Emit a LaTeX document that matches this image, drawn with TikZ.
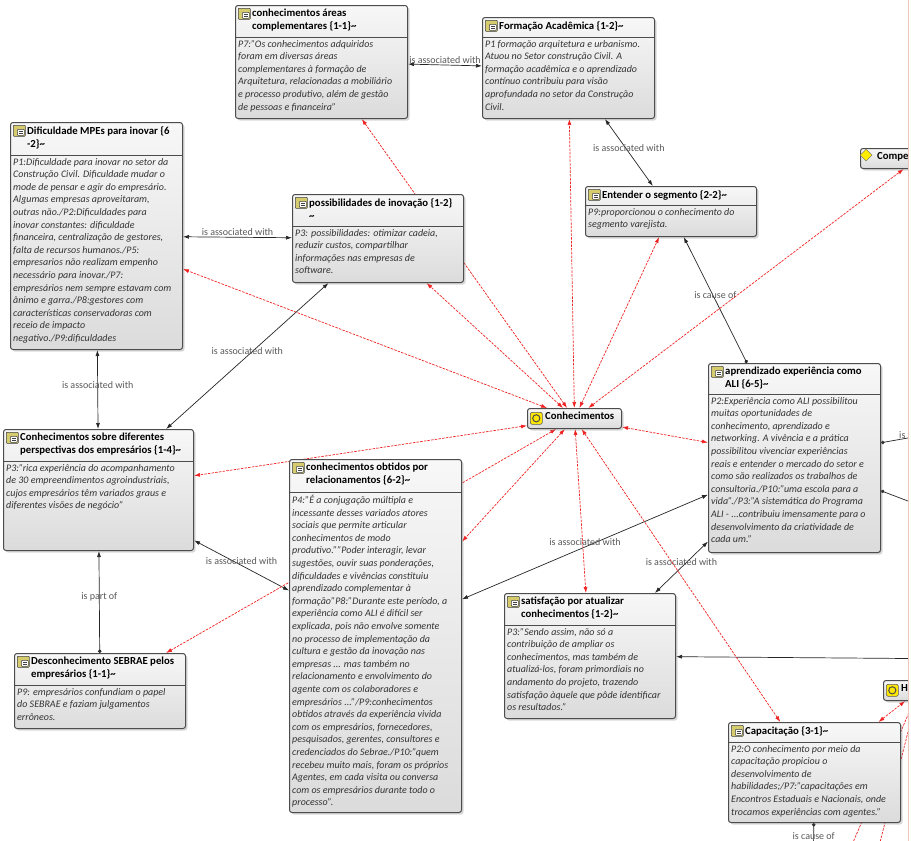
\documentclass[tikz,border=0pt]{standalone}
\usepackage{fontspec}
\setmainfont{Carlito}
\usepackage{tikz}
\usetikzlibrary{arrows.meta,positioning,calc,shadows,shapes.geometric,backgrounds}
\usepackage{xcolor}
\definecolor{relred}{RGB}{240,35,35}
\definecolor{paneledge}{RGB}{236,198,184}
\definecolor{codeyellow}{RGB}{214,204,110}

\begin{document}
\begin{tikzpicture}[x=1pt,y=-1pt,>={Latex[length=6pt,width=4pt]},
  box/.style={draw=black!70,line width=1pt,rounded corners=2.5pt,anchor=north west,inner sep=0pt,
    top color=white!97!black,bottom color=white!86!black,
    drop shadow={shadow xshift=2pt,shadow yshift=-2pt,opacity=0.3}},
  hd/.style={font=\fontsize{10.75}{13}\selectfont\bfseries,align=left,inner sep=2pt},
  bd/.style={font=\fontsize{10}{12.6}\selectfont\itshape,text=black!80,align=left,inner sep=2pt},
  codeicon/.style={draw=black!75,line width=0.6pt,fill=codeyellow,minimum width=12pt,minimum height=11pt,inner sep=0pt,rounded corners=0.8pt,
    path picture={\draw[black!75,fill=white,line width=0.5pt] ([xshift=4pt,yshift=-4pt]path picture bounding box.north west) rectangle ([xshift=-1pt,yshift=1pt]path picture bounding box.south east);
      \draw[black!75,line width=0.4pt] ([xshift=5.5pt,yshift=-6pt]path picture bounding box.north west) -- ([xshift=-2.5pt,yshift=-6pt]path picture bounding box.north east)
      ([xshift=5.5pt,yshift=-8pt]path picture bounding box.north west) -- ([xshift=-2.5pt,yshift=-8pt]path picture bounding box.north east);}},
  famicon/.style={draw=black!65,line width=0.6pt,rounded corners=2pt,fill=yellow!90!orange,minimum size=12pt,inner sep=0pt,
    path picture={\draw[black!70,line width=1pt] (path picture bounding box.center) circle (3.6pt);}},
  sunicon/.style={diamond,draw=black!60,fill=yellow!95!orange,minimum size=12pt,inner sep=0pt},
  sepline/.style={draw=black!70,line width=0.8pt},
  lbl/.style={font=\fontsize{10}{12}\selectfont,text=black!65,inner sep=1pt,above},
  assoc/.style={black!85,line width=0.7pt,<->},
  cause/.style={black!85,line width=0.7pt,{Circle[length=3.5pt]}->},
  rel/.style={relred,dash pattern=on 2.5pt off 1.2pt,line width=0.7pt,<->}]

\useasboundingbox (0,0) rectangle (911,841);
\begin{scope}
\clip (0,0) rectangle (908,841);

% conhecimentos areas complementares
\node[box,minimum width=172pt,minimum height=113pt] (compl) at (235,5) {};
\node[codeicon,below right=3pt and 3pt of compl.north west] (complI) {};
\node[hd,below right=2pt and 15pt of compl.north west] (complH) {conhecimentos áreas\\complementares \{1-1\}\textasciitilde};
\draw[sepline] ($(compl.north west)+(0,32)$) -- ($(compl.north east)+(0,32)$);
\node[bd,below right=33pt and 1pt of compl.north west] (complB) {P7:"Os conhecimentos adquiridos\\foram em diversas áreas\\complementares à formação de\\Arquitetura, relacionadas a mobiliário\\e processo produtivo, além de gestão\\de pessoas e financeira"};

% formacao academica
\node[box,minimum width=172pt,minimum height=101pt] (form) at (482,17) {};
\node[codeicon,below right=3pt and 3pt of form.north west] (formI) {};
\node[hd,below right=2pt and 15pt of form.north west] (formH) {Formação Acadêmica \{1-2\}\textasciitilde};
\draw[sepline] ($(form.north west)+(0,20)$) -- ($(form.north east)+(0,20)$);
\node[bd,below right=21pt and 1pt of form.north west] (formB) {P1 formação arquitetura e urbanismo.\\Atuou no Setor construção Civil. A\\formação acadêmica e o aprendizado\\contínuo contribuiu para visão\\aprofundada no setor da Construção\\Civil.};

% dificuldade MPEs
\node[box,minimum width=172pt,minimum height=227pt] (dif) at (10,122) {};
\node[codeicon,below right=3pt and 3pt of dif.north west] (difI) {};
\node[hd,below right=2pt and 15pt of dif.north west] (difH) {Dificuldade MPEs para inovar \{6\\-2\}\textasciitilde};
\draw[sepline] ($(dif.north west)+(0,33)$) -- ($(dif.north east)+(0,33)$);
\node[bd,below right=34pt and 1pt of dif.north west] (difB) {P1:Dificuldade para inovar no setor da\\Construção Civil. Dificuldade mudar o\\mode de pensar e agir do empresário.\\Algumas empresas aproveitaram,\\outras não./P2:Dificuldades para\\inovar constantes: dificuldade\\financeira, centralização de gestores,\\falta de recursos humanos./P5:\\empresarios não realizam empenho\\necessário para inovar./P7:\\empresários nem sempre estavam com\\ânimo e garra./P8:gestores com\\características conservadoras com\\receio de impacto\\negativo./P9:dificuldades};

% possibilidades de inovacao
\node[box,minimum width=171pt,minimum height=88pt] (poss) at (292,194) {};
\node[codeicon,below right=3pt and 3pt of poss.north west] (possI) {};
\node[hd,below right=2pt and 15pt of poss.north west] (possH) {possibilidades de inovação \{1-2\}\\\textasciitilde};
\draw[sepline] ($(poss.north west)+(0,32)$) -- ($(poss.north east)+(0,32)$);
\node[bd,below right=33pt and 1pt of poss.north west] (possB) {P3: possibilidades: otimizar cadeia,\\reduzir custos, compartilhar\\informações nas empresas de\\software.};

% entender o segmento
\node[box,minimum width=171pt,minimum height=50pt] (ent) at (585,186) {};
\node[codeicon,below right=3pt and 3pt of ent.north west] (entI) {};
\node[hd,below right=2pt and 15pt of ent.north west] (entH) {Entender o segmento \{2-2\}\textasciitilde};
\draw[sepline] ($(ent.north west)+(0,19)$) -- ($(ent.north east)+(0,19)$);
\node[bd,below right=20pt and 1pt of ent.north west] (entB) {P9:proporcionou o conhecimento do\\segmento varejista.};

% compet (cut off)
\node[box,minimum width=114pt,minimum height=20pt] (comp) at (860,148) {};
\node[sunicon,below right=4pt and 3pt of comp.north west] (compI) {};
\node[hd,below right=2pt and 15pt of comp.north west] (compH) {Compet};

% Conhecimentos
\node[box,minimum width=94pt,minimum height=20pt] (conh) at (527,408) {};
\node[famicon,below right=4pt and 3pt of conh.north west] (conhI) {};
\node[hd,below right=2pt and 16pt of conh.north west] (conhH) {Conhecimentos};

% aprendizado experiencia como ALI
\node[box,minimum width=172pt,minimum height=189pt] (apr) at (708,363) {};
\node[codeicon,below right=3pt and 3pt of apr.north west] (aprI) {};
\node[hd,below right=2pt and 15pt of apr.north west] (aprH) {aprendizado experiência como\\ALI \{6-5\}\textasciitilde};
\draw[sepline] ($(apr.north west)+(0,31)$) -- ($(apr.north east)+(0,31)$);
\node[bd,below right=32pt and 1pt of apr.north west] (aprB) {P2:Experiência como ALI possibilitou\\muitas oportunidades de\\conhecimento, aprendizado e\\networking. A vivência e a prática\\possibilitou vivenciar experiências\\reais e entender o mercado do setor e\\como são realizados os trabalhos de\\consultoria./P10:"uma escola para a\\vida"./P3:"A sistemática do Programa\\ALI - ...contribuiu imensamente para o\\desenvolvimento da criatividade de\\cada um."};

% conhecimentos sobre diferentes perspectivas
\node[box,minimum width=190pt,minimum height=121pt] (sobre) at (3,429) {};
\node[codeicon,below right=3pt and 3pt of sobre.north west] (sobreI) {};
\node[hd,below right=2pt and 15pt of sobre.north west] (sobreH) {Conhecimentos sobre diferentes\\perspectivas dos empresários \{1-4\}\textasciitilde};
\draw[sepline] ($(sobre.north west)+(0,32)$) -- ($(sobre.north east)+(0,32)$);
\node[bd,below right=33pt and 1pt of sobre.north west] (sobreB) {P3:"rica experiência do acompanhamento\\de 30 empreendimentos agroindustriais,\\cujos empresários têm variados graus e\\diferentes visões de negócio"};

% conhecimentos obtidos por relacionamentos
\node[box,minimum width=172pt,minimum height=353pt] (obt) at (289,459) {};
\node[codeicon,below right=3pt and 3pt of obt.north west] (obtI) {};
\node[hd,below right=2pt and 15pt of obt.north west] (obtH) {conhecimentos obtidos por\\relacionamentos \{6-2\}\textasciitilde};
\draw[sepline] ($(obt.north west)+(0,33)$) -- ($(obt.north east)+(0,33)$);
\node[bd,below right=34pt and 1pt of obt.north west] (obtB) {P4:"É a conjugação múltipla e\\incessante desses variados atores\\sociais que permite articular\\conhecimentos de modo\\produtivo.""Poder interagir, levar\\sugestões, ouvir suas ponderações,\\dificuldades e vivências constituiu\\aprendizado complementar à\\formação"P8:"Durante este período, a\\experiência como ALI é difícil ser\\explicada, pois não envolve somente\\no processo de implementação da\\cultura e gestão da inovação nas\\empresas ... mas também no\\relacionamento e envolvimento do\\agente com os colaboradores e\\empresários ..."/P9:conhecimentos\\obtidos através da experiência vivida\\com os empresários, fornecedores,\\pesquisados, gerentes, consultores e\\credenciados do Sebrae./P10:"quem\\recebeu muito mais, foram os próprios\\Agentes, em cada visita ou conversa\\com os empresários durante todo o\\processo".};

% satisfacao por atualizar conhecimentos
\node[box,minimum width=171pt,minimum height=125pt] (sat) at (504,593) {};
\node[codeicon,below right=3pt and 3pt of sat.north west] (satI) {};
\node[hd,below right=2pt and 15pt of sat.north west] (satH) {satisfação por atualizar\\conhecimentos \{1-2\}\textasciitilde};
\draw[sepline] ($(sat.north west)+(0,32)$) -- ($(sat.north east)+(0,32)$);
\node[bd,below right=33pt and 1pt of sat.north west] (satB) {P3:"Sendo assim, não só a\\contribuição de ampliar os\\conhecimentos, mas também de\\atualizá-los, foram primordiais no\\andamento do projeto, trazendo\\satisfação àquele que pôde identificar\\os resultados."};

% desconhecimento SEBRAE
\node[box,minimum width=171pt,minimum height=75pt] (desc) at (14,653) {};
\node[codeicon,below right=3pt and 3pt of desc.north west] (descI) {};
\node[hd,below right=2pt and 15pt of desc.north west] (descH) {Desconhecimento SEBRAE pelos\\empresários \{1-1\}\textasciitilde};
\draw[sepline] ($(desc.north west)+(0,32)$) -- ($(desc.north east)+(0,32)$);
\node[bd,below right=33pt and 1pt of desc.north west] (descB) {P9: empresários confundiam o papel\\do SEBRAE e faziam julgamentos\\errôneos.};

% capacitacao
\node[box,minimum width=172pt,minimum height=100pt] (cap) at (728,722) {};
\node[codeicon,below right=3pt and 3pt of cap.north west] (capI) {};
\node[hd,below right=2pt and 15pt of cap.north west] (capH) {Capacitação \{3-1\}\textasciitilde};
\draw[sepline] ($(cap.north west)+(0,20)$) -- ($(cap.north east)+(0,20)$);
\node[bd,below right=21pt and 1pt of cap.north west] (capB) {P2:O conhecimento por meio da\\capacitação propiciou o\\desenvolvimento de\\habilidades;/P7:"capacitações em\\Encontros Estaduais e Nacionais, onde\\trocamos experiências com agentes."};

% Ha (cut off)
\node[box,minimum width=70pt,minimum height=20pt] (ha) at (883,680) {};
\node[famicon,below right=4pt and 3pt of ha.north west] (haI) {};
\node[hd,below right=2pt and 16pt of ha.north west] (haH) {Ha};
\end{scope}

% free ends outside the view
\coordinate (offA) at (1100,404);
\coordinate (offB) at (1100,574);
\coordinate (offC) at (1100,660);
\coordinate (offD) at (812,960);
\coordinate (offE) at (840,1000);
\coordinate (offF) at (785,1000);

\begin{pgfonlayer}{background}
\fill[white] (0,0) rectangle (911,841);
\clip (0,0) rectangle (908,841);
\draw[assoc] (compl) -- node[lbl] {is associated with} (form);
\draw[assoc] (form) -- node[lbl] {is associated with} (ent);
\draw[assoc] (dif) -- node[lbl] {is associated with} (poss);
\draw[assoc] (poss) -- node[lbl] {is associated with} (sobre);
\draw[assoc] (dif) -- node[lbl] {is associated with} (sobre);
\draw[assoc] (sobre) -- node[lbl] {is associated with} (obt);
\draw[assoc] (obt) -- node[lbl] {is associated with} (apr);
\draw[assoc] (apr) -- node[lbl] {is associated with} (sat);
\draw[cause] (apr) -- node[lbl] {is cause of} (ent);
\draw[cause] (desc) -- node[lbl] {is part of} (sobre);
\draw[cause] (apr) -- node[lbl,pos=0.077,anchor=south west] {is} (offA);
\draw[cause] (apr) -- (offB);
\draw[cause] (offC) -- (sat);
\draw[cause] (cap) -- node[lbl,pos=0.06,anchor=north] {is cause of} (offD);

\draw[rel] (conh) -- (compl);
\draw[rel] (conh) -- (form);
\draw[rel] (conh) -- (poss);
\draw[rel] (conh) -- (dif);
\draw[rel] (conh) -- (ent);
\draw[rel] (conh) -- (comp);
\draw[rel] (conh) -- (apr);
\draw[rel] (conh) -- (sobre);
\draw[rel] (conh) -- (obt);
\draw[rel] (conh) -- (desc);
\draw[rel] (conh) -- (sat);
\draw[rel] (conh) -- (cap);
\draw[rel] (cap) -- (ha);
\draw[rel] (ha) -- (offE);
\draw[rel] (ha) -- (offF);
\end{pgfonlayer}

\draw[paneledge,line width=1pt] (908.5,0) -- (908.5,841);
\end{tikzpicture}
\end{document}
